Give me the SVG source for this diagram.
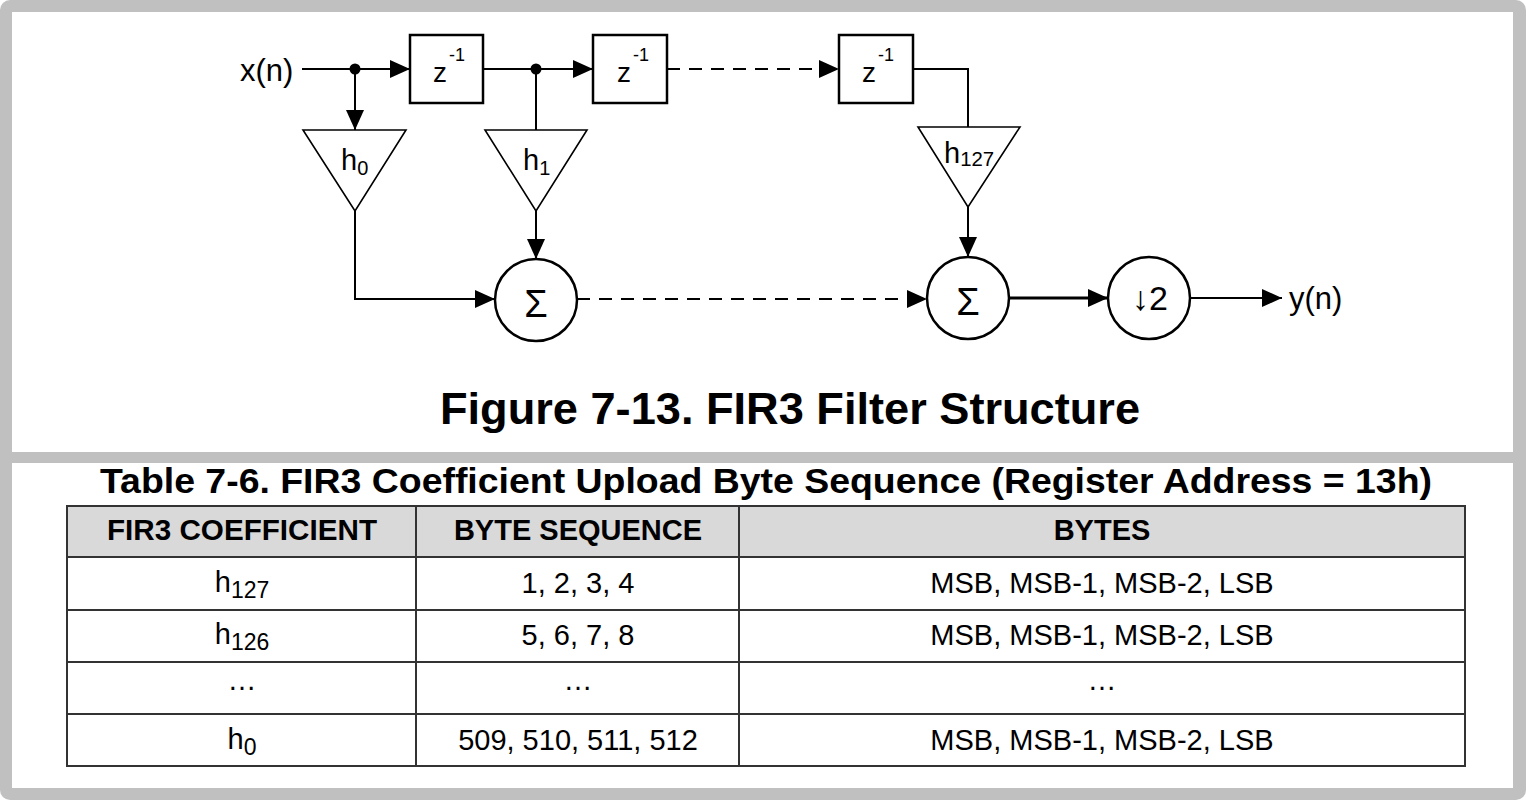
<svg xmlns="http://www.w3.org/2000/svg" width="1526" height="802" viewBox="0 0 1526 802">
<style>
text{font-family:"Liberation Sans",Arial,sans-serif;fill:#000}
.ln{stroke:#000;stroke-width:2;fill:none}
.dash{stroke:#000;stroke-width:2;fill:none;stroke-dasharray:13 9}
.box{stroke:#000;stroke-width:2.5;fill:#fff}
.tri{stroke:#000;stroke-width:1.6;fill:#fff}
.cir{stroke:#000;stroke-width:2.5;fill:#fff}
.lbl{font-size:31px}
.cell{font-size:29px;text-anchor:middle}
.hd{font-size:29px;font-weight:bold;text-anchor:middle}
.grid{stroke:#333;stroke-width:2;fill:none}
</style>
<defs>
<marker id="ah" markerUnits="userSpaceOnUse" markerWidth="22" markerHeight="18" refX="20" refY="9" orient="auto">
<path d="M0,0 L20,9 L0,18 Z" fill="#000"/>
</marker>
</defs>
<rect x="0" y="0" width="1526" height="802" fill="#fff"/>
<rect x="0" y="0" width="1526" height="800" rx="10" fill="#c0c0c0"/>
<rect x="12" y="12" width="1501" height="440" fill="#fff"/>
<rect x="12" y="463" width="1501" height="325" fill="#fff"/>

<g id="connectors">
<line class="ln" x1="302" y1="69" x2="410" y2="69" marker-end="url(#ah)"/>
<line class="ln" x1="483" y1="69" x2="593" y2="69" marker-end="url(#ah)"/>
<line class="dash" x1="667" y1="69" x2="839" y2="69" marker-end="url(#ah)"/>
<polyline class="ln" points="913,69 968,69 968,127"/>
<line class="ln" x1="355" y1="69" x2="355" y2="130" marker-end="url(#ah)"/>
<line class="ln" x1="536" y1="69" x2="536" y2="130"/>
<polyline class="ln" points="355,211 355,299 495,299" marker-end="url(#ah)"/>
<line class="ln" x1="536" y1="211" x2="536" y2="259" marker-end="url(#ah)"/>
<line class="dash" x1="577" y1="299" x2="927" y2="299" marker-end="url(#ah)"/>
<line class="ln" x1="968" y1="207" x2="968" y2="257" marker-end="url(#ah)"/>
<line x1="1009" y1="298" x2="1108" y2="298" stroke="#000" stroke-width="3" marker-end="url(#ah)"/>
<line class="ln" x1="1190" y1="298" x2="1282" y2="298" marker-end="url(#ah)"/>
<circle cx="355" cy="69" r="5.5" fill="#000"/>
<circle cx="536" cy="69" r="5.5" fill="#000"/>
</g>

<g id="input"><text class="lbl" x="240" y="81">x(n)</text></g>
<g id="output"><text class="lbl" x="1289" y="309">y(n)</text></g>

<g id="delay1">
<rect class="box" x="410" y="35" width="73" height="68"/>
<text x="433" y="82" font-size="28">z</text><text x="449" y="61" font-size="18">-1</text>
</g>
<g id="delay2">
<rect class="box" x="593" y="35" width="74" height="68"/>
<text x="617" y="82" font-size="28">z</text><text x="633" y="61" font-size="18">-1</text>
</g>
<g id="delay3">
<rect class="box" x="839" y="35" width="74" height="68"/>
<text x="862" y="82" font-size="28">z</text><text x="878" y="61" font-size="18">-1</text>
</g>

<g id="gain0">
<polygon class="tri" points="303,130 406,130 355,211"/>
<text x="341" y="170" font-size="29">h<tspan font-size="20" dy="5">0</tspan></text>
</g>
<g id="gain1">
<polygon class="tri" points="485,130 587,130 536,211"/>
<text x="523" y="170" font-size="29">h<tspan font-size="20" dy="5">1</tspan></text>
</g>
<g id="gain127">
<polygon class="tri" points="918,127 1020,127 968,207"/>
<text x="944" y="163" font-size="29">h<tspan font-size="20" dy="3" textLength="34" lengthAdjust="spacingAndGlyphs">127</tspan></text>
</g>

<g id="sum1">
<circle class="cir" cx="536" cy="300" r="41"/>
<text x="536" y="317" font-size="38" text-anchor="middle">Σ</text>
</g>
<g id="sum2">
<circle class="cir" cx="968" cy="298" r="41"/>
<text x="968" y="315" font-size="38" text-anchor="middle">Σ</text>
</g>
<g id="decim">
<circle class="cir" cx="1149" cy="298" r="41"/>
<text x="1150" y="310" font-size="34" text-anchor="middle"><tspan font-weight="bold">↓</tspan>2</text>
</g>

<g id="caption">
<text x="790" y="424" font-size="44" font-weight="bold" text-anchor="middle" textLength="700" lengthAdjust="spacingAndGlyphs">Figure 7-13. FIR3 Filter Structure</text>
</g>

<g id="table">
<text x="766" y="493" font-size="35" font-weight="bold" text-anchor="middle" textLength="1332" lengthAdjust="spacingAndGlyphs">Table 7-6. FIR3 Coefficient Upload Byte Sequence (Register Address = 13h)</text>
<rect x="67" y="506" width="1398" height="51" fill="#d9d9d9"/>
<rect class="grid" x="67" y="506" width="1398" height="260"/>
<line class="grid" x1="67" y1="557" x2="1465" y2="557"/>
<line class="grid" x1="67" y1="610" x2="1465" y2="610"/>
<line class="grid" x1="67" y1="662" x2="1465" y2="662"/>
<line class="grid" x1="67" y1="714" x2="1465" y2="714"/>
<line class="grid" x1="416" y1="506" x2="416" y2="766"/>
<line class="grid" x1="739" y1="506" x2="739" y2="766"/>
<text class="hd" x="242" y="540" textLength="270" lengthAdjust="spacingAndGlyphs">FIR3 COEFFICIENT</text>
<text class="hd" x="578" y="540">BYTE SEQUENCE</text>
<text class="hd" x="1102" y="540">BYTES</text>
<text class="cell" x="242" y="592">h<tspan font-size="23" dy="6">127</tspan></text>
<text class="cell" x="578" y="593">1, 2, 3, 4</text>
<text class="cell" x="1102" y="593">MSB, MSB-1, MSB-2, LSB</text>
<text class="cell" x="242" y="644">h<tspan font-size="23" dy="6">126</tspan></text>
<text class="cell" x="578" y="645">5, 6, 7, 8</text>
<text class="cell" x="1102" y="645">MSB, MSB-1, MSB-2, LSB</text>
<text class="cell" x="242" y="690">…</text>
<text class="cell" x="578" y="690">…</text>
<text class="cell" x="1102" y="690">…</text>
<text class="cell" x="242" y="749">h<tspan font-size="23" dy="6">0</tspan></text>
<text class="cell" x="578" y="750">509, 510, 511, 512</text>
<text class="cell" x="1102" y="750">MSB, MSB-1, MSB-2, LSB</text>
</g>
</svg>
